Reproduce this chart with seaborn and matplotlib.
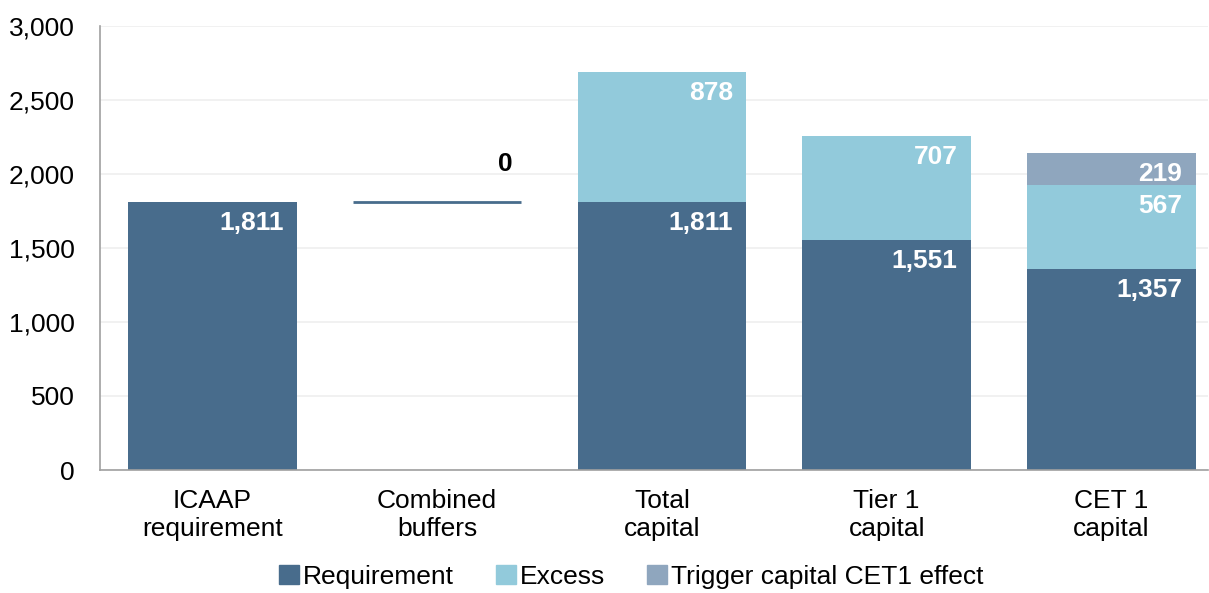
import matplotlib
matplotlib.use('Agg')
import matplotlib.pyplot as plt
from matplotlib.patches import Patch
import seaborn as sns
import pandas as pd
import numpy as np

categories = ['ICAAP\nrequirement', 'Combined\nbuffers', 'Total\ncapital', 'Tier 1\ncapital', 'CET 1\ncapital']
requirement = [1811, np.nan, 1811, 1551, 1357]
excess = [0, 0, 878, 707, 567]
trigger = [0, 0, 0, 0, 219]
buffer_base = 1811
buffer_value = 0

c_req = '#486C8C'
c_exc = '#92CADB'
c_trg = '#8FA6BE'

df = pd.DataFrame({'cat': categories, 'req': requirement, 'exc': excess, 'trg': trigger})
df['req_exc'] = df['req'] + df['exc']
df['total'] = df['req_exc'] + df['trg']

sns.set_theme(style='white')
plt.rcParams['font.family'] = ['Liberation Sans', 'DejaVu Sans']

fig = plt.figure(figsize=(12.09, 5.93), dpi=100)
ax = fig.add_axes([0.0827, 0.2074, 0.9165, 0.749])

# stacked via overlapping cumulative bars
sns.barplot(data=df, x='cat', y='total', color=c_trg, width=0.75, saturation=1, ax=ax, zorder=2)
sns.barplot(data=df, x='cat', y='req_exc', color=c_exc, width=0.75, saturation=1, ax=ax, zorder=2)
sns.barplot(data=df, x='cat', y='req', color=c_req, width=0.75, saturation=1, ax=ax, zorder=2)
for p in ax.patches:
    p.set_edgecolor('none')

# combined buffers waterfall step (zero height)
bi = 1
ax.hlines(buffer_base + buffer_value, bi - 0.375, bi + 0.375, color=c_req, lw=2, zorder=3)
ax.annotate(f'{buffer_value:,}', (bi + 0.375, buffer_base + buffer_value), xytext=(-6, 27),
            textcoords='offset points', ha='right', va='center', fontsize=19,
            fontweight='bold', color='black')

# value labels
for i in range(len(categories)):
    segs = [(requirement[i], requirement[i]), (excess[i], df['req_exc'][i]), (trigger[i], df['total'][i])]
    for val, top in segs:
        if pd.notna(val) and val > 0:
            ax.annotate(f'{int(val):,}', (i + 0.375, top), xytext=(-9.5, -15),
                        textcoords='offset points', ha='right', va='center',
                        fontsize=19, fontweight='bold', color='white', zorder=4)

ax.set_ylim(0, 3000)
ax.set_xlim(-0.5, 4.43)
ax.set_yticks(range(0, 3001, 500))
ax.yaxis.set_major_formatter(matplotlib.ticker.FuncFormatter(lambda v, p: f'{int(v):,}'))
ax.yaxis.grid(True, color='#EFEFEF', lw=1.2, zorder=0)
ax.set_axisbelow(True)
ax.tick_params(axis='both', length=0, labelsize=19, colors='black')
ax.tick_params(axis='y', pad=18)
ax.tick_params(axis='x', pad=14)
ax.set_xlabel('')
ax.set_ylabel('')
for s in ['top', 'right']:
    ax.spines[s].set_visible(False)
for s in ['left', 'bottom']:
    ax.spines[s].set_color('#A0A0A0')
    ax.spines[s].set_linewidth(1.2)

handles = [Patch(color=c_req, label='Requirement'),
           Patch(color=c_exc, label='Excess'),
           Patch(color=c_trg, label='Trigger capital CET1 effect')]
leg = fig.legend(handles=handles, loc='center', bbox_to_anchor=(0.522, 0.027), ncol=3, frameon=False,
                 fontsize=19, handlelength=0.75, handleheight=0.75, handletextpad=0.15, columnspacing=1.6)
for t in leg.get_texts():
    t.set_color('black')

fig.savefig('out.png', dpi=100)
